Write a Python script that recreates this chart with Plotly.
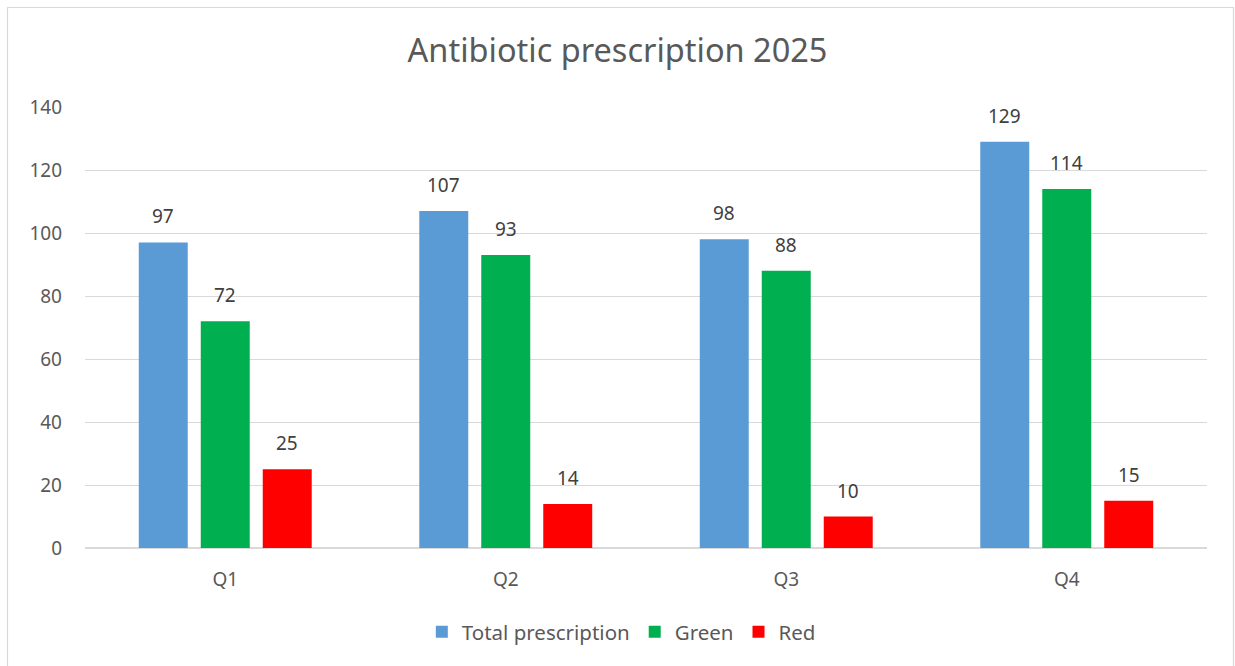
import plotly.graph_objects as go

quarters = ["Q1", "Q2", "Q3", "Q4"]
total_rx = [97, 107, 98, 129]
green_rx = [72, 93, 88, 114]
red_rx = [25, 14, 10, 15]

series = [
    ("Total prescription", total_rx, "#5B9BD5"),
    ("Green", green_rx, "#00B050"),
    ("Red", red_rx, "#FF0000"),
]

FONT = "Noto Sans"
W, H = 1235, 666
ML, MR, MT, MB = 85, 28, 107, 118

fig = go.Figure()
for name, vals, color in series:
    fig.add_trace(go.Bar(
        name=name, x=quarters, y=vals, marker_color=color,
        marker_line_width=0,
    ))

# value labels above each bar (offset horizontally to its slot in the group)
plot_w = W - ML - MR
slot_px = plot_w / len(quarters) * (1 - 0.337) / len(series)
for i, (name, vals, color) in enumerate(series):
    for q, v in zip(quarters, vals):
        fig.add_annotation(
            x=q, y=v, text=str(v), showarrow=False,
            xshift=(i - 1) * slot_px, yshift=11, yanchor="bottom",
            font=dict(family=FONT, size=19, color="#404040"),
        )

# chart frame
plot_h = H - MT - MB
fig.add_shape(
    type="rect", xref="paper", yref="paper", layer="below",
    x0=(7.5 - ML) / plot_w, x1=(1233.5 - ML) / plot_w,
    y0=-(H + 10 - (H - MB)) / plot_h, y1=((H - MB) - 7.5) / plot_h,
    line=dict(color="#D9D9D9", width=1.2), fillcolor="rgba(0,0,0,0)",
)

fig.update_layout(
    width=W, height=H,
    margin=dict(l=ML, r=MR, t=MT, b=MB),
    paper_bgcolor="white", plot_bgcolor="white",
    barmode="group", bargap=0.337, bargroupgap=0.21,
    title=dict(
        text="Antibiotic prescription 2025", x=0.5, xanchor="center",
        y=1 - 51 / H, yanchor="middle",
        font=dict(family=FONT, size=32.5, color="#595959"),
    ),
    legend=dict(
        orientation="h", x=0.478, xanchor="center",
        y=-(632 - (H - MB)) / plot_h, yanchor="middle",
        font=dict(family=FONT, size=20.5, color="#595959"),
        itemwidth=30, traceorder="normal",
    ),
    showlegend=True,
)
fig.update_yaxes(
    range=[0, 140], dtick=20, showgrid=True, gridcolor="#D9D9D9", gridwidth=1.4,
    zeroline=True, zerolinecolor="#D9D9D9", zerolinewidth=2,
    showline=False, ticks="", ticklabelstandoff=22,
    tickfont=dict(family=FONT, size=19, color="#595959"),
)
fig.update_xaxes(
    showgrid=False, showline=False, ticks="", ticklabelstandoff=18,
    tickfont=dict(family=FONT, size=19, color="#595959"),
)

fig.write_html("out.html")
